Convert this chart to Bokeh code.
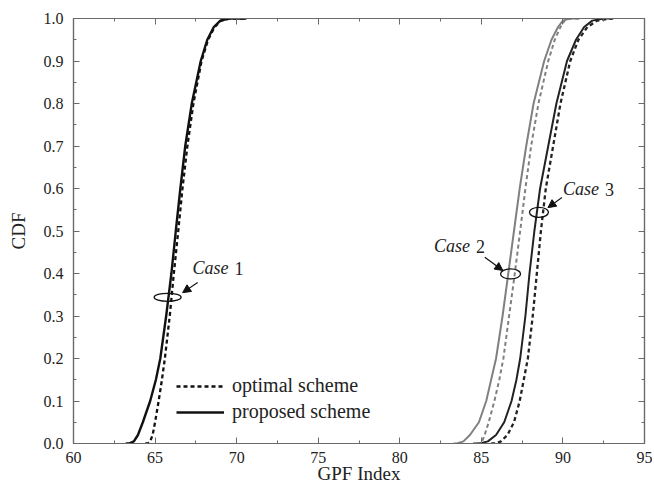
from bokeh.plotting import figure
from bokeh.models import (Range1d, LinearAxis, FixedTicker, Legend, LegendItem,
                          Label, Arrow, NormalHead)
from bokeh.embed import file_html
from bokeh.resources import INLINE

# CDF levels shared by all curves (first/last repeated for flat tails)
cdf_levels = [0.0, 0.0, 0.005, 0.02, 0.05, 0.1, 0.15, 0.2, 0.3, 0.4, 0.5,
              0.6, 0.7, 0.8, 0.9, 0.95, 0.98, 0.995, 1.0, 1.0]

# GPF index values at those levels
case1_proposed = [63.2, 63.4, 63.7, 63.95, 64.25, 64.7, 65.05, 65.32, 65.68, 66.0,
                  66.27, 66.55, 66.85, 67.25, 67.8, 68.2, 68.6, 69.0, 69.55, 70.6]
case1_optimal = [64.4, 64.55, 64.7, 64.85, 65.0, 65.22, 65.42, 65.6, 65.9, 66.15,
                 66.42, 66.68, 66.98, 67.35, 67.85, 68.25, 68.65, 69.05, 69.6, 70.6]
case2_proposed = [83.3, 83.5, 83.9, 84.3, 84.85, 85.3, 85.6, 85.9, 86.3, 86.65,
                  87.0, 87.35, 87.75, 88.2, 88.85, 89.3, 89.7, 90.0, 90.4, 91.0]
case2_optimal = [84.7, 84.9, 85.05, 85.2, 85.45, 85.8, 86.1, 86.35, 86.7, 87.05,
                 87.38, 87.7, 88.05, 88.5, 89.1, 89.5, 89.85, 90.1, 90.5, 91.0]
case3_proposed = [84.5, 84.9, 85.4, 85.9, 86.4, 86.85, 87.15, 87.38, 87.7, 87.95,
                  88.25, 88.6, 89.1, 89.6, 90.25, 90.8, 91.3, 91.8, 92.5, 93.0]
case3_optimal = [85.6, 85.9, 86.2, 86.6, 87.0, 87.35, 87.6, 87.85, 88.15, 88.4,
                 88.65, 88.95, 89.4, 89.85, 90.45, 90.95, 91.5, 92.1, 92.9, 93.1]

x_ticks = [60, 65, 70, 75, 80, 85, 90, 95]
x_minor = [60 + 2.5 * i for i in range(15)]
y_ticks = [0.0, 0.1, 0.2, 0.3, 0.4, 0.5, 0.6, 0.7, 0.8, 0.9, 1.0]
y_minor = [0.05 * i for i in range(21)]
y_tick_labels = {v: f"{v:.1f}" for v in y_ticks}

FONT = "Liberation Serif"
AXIS_COLOR = "#6a6a6a"
BLACK = "#111111"
GRAY = "#808080"
TEXT = "#222222"

p = figure(width=652, height=488, output_backend="svg", toolbar_location=None,
           x_range=Range1d(60, 95), y_range=Range1d(0, 1),
           min_border_left=73, min_border_right=8, min_border_top=18,
           min_border_bottom=45)
p.grid.visible = False
p.outline_line_color = AXIS_COLOR
p.outline_line_width = 1.2
p.background_fill_color = "white"
p.border_fill_color = "white"


def style_axis(ax, show_labels=True):
    ax.axis_line_color = AXIS_COLOR
    ax.axis_line_width = 1.2
    ax.major_tick_line_color = AXIS_COLOR
    ax.minor_tick_line_color = AXIS_COLOR
    ax.major_tick_in = 6
    ax.major_tick_out = 0
    ax.minor_tick_in = 3
    ax.minor_tick_out = 0
    ax.major_label_text_font = FONT
    ax.major_label_text_color = TEXT
    if show_labels:
        ax.major_label_text_font_size = "16px"
    else:
        ax.major_label_text_font_size = "1px"
        ax.major_label_text_alpha = 0
        ax.major_label_text_color = None
        ax.major_label_standoff = 0


p.xaxis.ticker = FixedTicker(ticks=x_ticks, minor_ticks=x_minor)
p.yaxis.ticker = FixedTicker(ticks=y_ticks, minor_ticks=y_minor)
p.yaxis.major_label_overrides = y_tick_labels
style_axis(p.xaxis[0])
style_axis(p.yaxis[0])
p.xaxis.major_label_standoff = 8
p.yaxis.major_label_standoff = 10

p.yaxis.axis_label = "CDF"
p.yaxis.axis_label_text_font = FONT
p.yaxis.axis_label_text_font_size = "19px"
p.yaxis.axis_label_text_font_style = "normal"
p.yaxis.axis_label_text_color = TEXT
p.yaxis.axis_label_standoff = 12

p.xaxis.axis_label = "GPF Index"
p.xaxis.axis_label_text_font = FONT
p.xaxis.axis_label_text_font_size = "19px"
p.xaxis.axis_label_text_font_style = "normal"
p.xaxis.axis_label_text_color = TEXT
p.xaxis.axis_label_standoff = -3

top_ax = LinearAxis(ticker=FixedTicker(ticks=x_ticks, minor_ticks=x_minor))
right_ax = LinearAxis(ticker=FixedTicker(ticks=y_ticks, minor_ticks=y_minor))
style_axis(top_ax, False)
style_axis(right_ax, False)
p.add_layout(top_ax, "above")
p.add_layout(right_ax, "right")

# curves
r1p = p.line(case1_proposed, cdf_levels, line_color=BLACK, line_width=2.4)
r1o = p.line(case1_optimal, cdf_levels, line_color=BLACK, line_width=2.3, line_dash="4 3")
r2p = p.line(case2_proposed, cdf_levels, line_color=GRAY, line_width=2.0)
r2o = p.line(case2_optimal, cdf_levels, line_color=GRAY, line_width=2.0, line_dash="4 3")
r3p = p.line(case3_proposed, cdf_levels, line_color="#222222", line_width=2.0)
r3o = p.line(case3_optimal, cdf_levels, line_color="#222222", line_width=2.3, line_dash="4 3")

# legend
legend = Legend(items=[LegendItem(label="optimal scheme", renderers=[r1o]),
                       LegendItem(label="proposed scheme", renderers=[r1p])],
                location=(103, 20), padding=0, spacing=3, margin=0,
                glyph_width=48, glyph_height=20, label_height=20,
                label_standoff=8, label_text_font=FONT,
                label_text_font_size="20px", label_text_color=TEXT,
                border_line_color=None, background_fill_alpha=0)
p.add_layout(legend, "center")

# case annotations
p.ellipse(x=[65.77, 86.79, 88.53], y=[0.344, 0.399, 0.544],
          width=[27, 20, 19], height=[8, 10, 10],
          width_units="screen", height_units="screen",
          fill_color=None, line_color=BLACK, line_width=1.3)

arrows = [((67.61, 0.379), (66.69, 0.355)),
          ((85.21, 0.438), (86.32, 0.407)),
          ((89.94, 0.579), (89.08, 0.555))]
for (xs, ys), (xe, ye) in arrows:
    p.add_layout(Arrow(x_start=xs, y_start=ys, x_end=xe, y_end=ye,
                       line_color=BLACK, line_width=1.2,
                       end=NormalHead(size=8, fill_color=BLACK, line_color=BLACK)))

case_labels = [(67.3, 0.412, "1"), (82.1, 0.464, "2"), (90.0, 0.598, "3")]
for xl, yl, num in case_labels:
    p.add_layout(Label(x=xl, y=yl, text="Case", text_font=FONT,
                       text_font_style="italic", text_font_size="18px",
                       text_baseline="middle", text_align="left",
                       text_color=TEXT))
    p.add_layout(Label(x=xl, y=yl, x_offset=42, text=num, text_font=FONT,
                       text_font_size="18px", text_baseline="middle",
                       text_align="left", text_color=TEXT))

open("out.html", "w").write(file_html(p, INLINE))
